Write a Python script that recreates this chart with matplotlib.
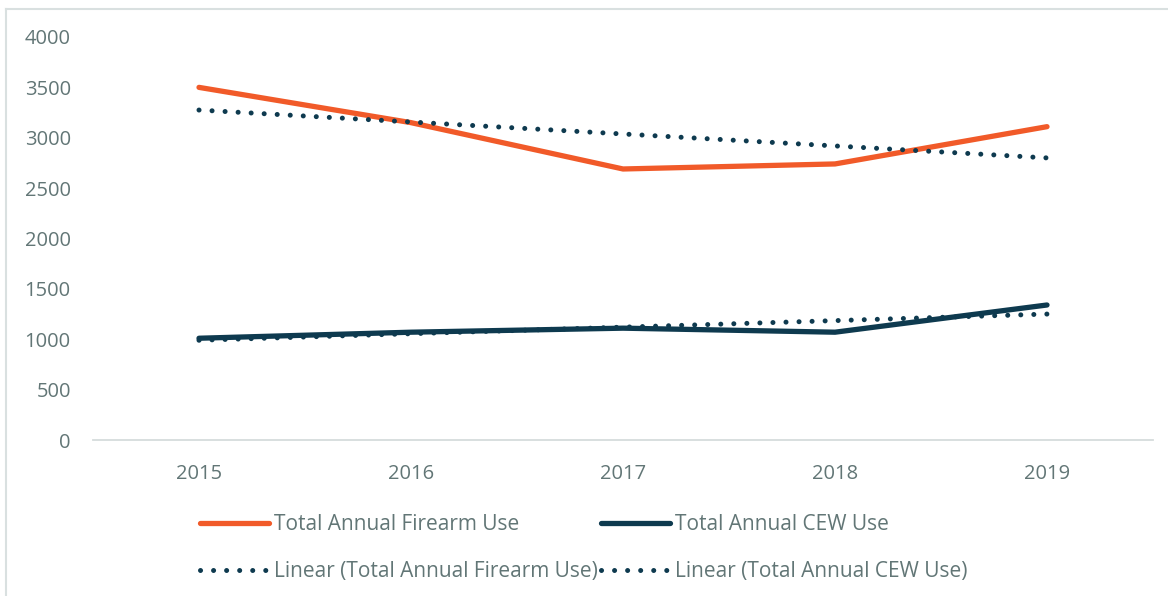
import matplotlib
matplotlib.use("Agg")
import matplotlib.pyplot as plt
from matplotlib.lines import Line2D

years = ["2015", "2016", "2017", "2018", "2019"]
firearm = [3500, 3150, 2690, 2740, 3110]
cew = [1010, 1070, 1110, 1070, 1340]
# linear trend end points (2015, 2019)
trend_firearm = [3275, 2800]
trend_cew = [990, 1250]

ORANGE = "#f15a29"
NAVY = "#0e3a4f"
TEXT = "#627676"

plt.rcParams["font.family"] = ["Open Sans", "DejaVu Sans"]

fig = plt.figure(figsize=(11.68, 5.96), dpi=100)
ax = fig.add_axes([93 / 1168, 1 - 440 / 596, (1153 - 93) / 1168, (440 - 37) / 596])

x = list(range(len(years)))
dots = dict(linestyle=(0, (0.01, 2.6)), linewidth=3.6, color=NAVY,
            dash_capstyle="round", solid_capstyle="round")

ax.plot(x, firearm, color=ORANGE, linewidth=3.8, solid_capstyle="round",
        solid_joinstyle="round", label="Total Annual Firearm Use", zorder=3)
ax.plot([x[0], x[-1]], trend_firearm, label="Linear (Total Annual Firearm Use)",
        zorder=4, **dots)
ax.plot(x, cew, color=NAVY, linewidth=3.8, solid_capstyle="round",
        solid_joinstyle="round", label="Total Annual CEW Use", zorder=3)
ax.plot([x[0], x[-1]], trend_cew, label="Linear (Total Annual CEW Use)",
        zorder=4, **dots)

ax.set_xlim(-0.5, len(years) - 0.5)
ax.set_ylim(0, 4000)
ax.set_yticks(range(0, 4001, 500))
ax.set_xticks(x)
ax.set_xticklabels(years)

for side in ["top", "right", "left"]:
    ax.spines[side].set_visible(False)
ax.spines["bottom"].set_color("#d6dcdc")
ax.spines["bottom"].set_linewidth(1.3)
ax.tick_params(axis="both", length=0, labelsize=14.5, colors=TEXT)
ax.tick_params(axis="y", pad=16)
ax.tick_params(axis="x", pad=17)

handles, labels = ax.get_legend_handles_labels()
leg = fig.legend(handles, labels,
                 ncol=2, loc="upper left", bbox_to_anchor=(200 / 1168, 1 - 514 / 596),
                 frameon=False, fontsize=15, handlelength=3.3, handletextpad=0.25,
                 columnspacing=0.15, labelspacing=1.25, labelcolor=TEXT,
                 borderaxespad=0, borderpad=0)

# thin frame around the chart, visible on left and top only
fig.add_artist(Line2D([6 / 1168, 6 / 1168], [0, 1 - 9 / 596], transform=fig.transFigure,
                      color="#d9e0e0", linewidth=1.5))
fig.add_artist(Line2D([6 / 1168, 1], [1 - 9 / 596, 1 - 9 / 596], transform=fig.transFigure,
                      color="#d9e0e0", linewidth=1.5))

fig.savefig("out.png", dpi=100, facecolor="white")
